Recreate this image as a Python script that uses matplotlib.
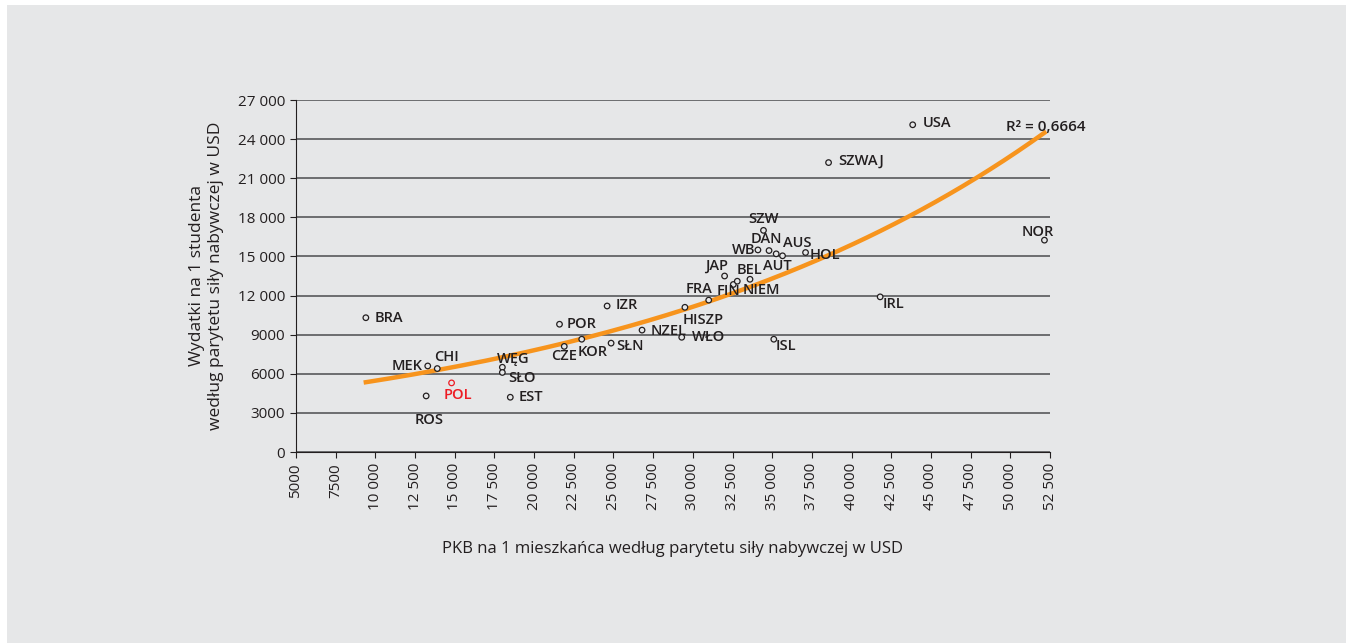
import matplotlib
matplotlib.use('Agg')
import matplotlib.pyplot as plt
import numpy as np
from matplotlib.patches import Rectangle

# data
countries = ['BRA', 'MEK', 'CHI', 'ROS', 'POL', 'WĘG', 'SŁO', 'EST', 'CZE', 'KOR',
             'POR', 'IZR', 'SŁN', 'NZEL', 'HISZP', 'WŁO', 'ISL', 'FRA', 'FIN', 'NIEM',
             'JAP', 'BEL', 'AUT', 'AUS', 'WB', 'DAN', 'HOL', 'SZW', 'SZWAJ', 'USA',
             'NOR', 'IRL']
gdp = [9400, 13300, 13900, 13200, 14800, 18000, 18000, 18500, 21900, 23000,
       21600, 24600, 24850, 26800, 29500, 29300, 35100, 31000, 32550, 32800,
       32000, 33600, 35650, 35250, 34100, 34800, 37100, 34450, 38550, 43850,
       52150, 41800]
spend = [10300, 6600, 6400, 4300, 5300, 6500, 6100, 4200, 8100, 8650,
         9800, 11200, 8350, 9350, 11100, 8800, 8650, 11650, 12850, 13100,
         13500, 13250, 15050, 15200, 15500, 15450, 15300, 17000, 22200, 25100,
         16250, 11900]
xticks = np.arange(5000, 52501, 2500)
yticks = np.arange(0, 27001, 3000)
r2_text = 'R² = 0,6664'

# label placement: offset in points, ha, va
offsets = {
    'BRA': (6, 0, 'left', 'center'), 'MEK': (-4, 0, 'right', 'center'),
    'CHI': (-2, 8, 'left', 'center'), 'ROS': (2, -17, 'center', 'center'),
    'POL': (-6, -9, 'left', 'center'), 'WĘG': (-4, 6, 'left', 'center'),
    'SŁO': (4, -4, 'left', 'center'), 'EST': (6, 0, 'left', 'center'),
    'CZE': (0, -7, 'center', 'center'), 'KOR': (-3, -9, 'left', 'center'),
    'POR': (5, 0, 'left', 'center'), 'IZR': (6, 1, 'left', 'center'),
    'SŁN': (4, -2, 'left', 'center'), 'NZEL': (6, -1, 'left', 'center'),
    'HISZP': (-2, -9, 'left', 'center'), 'WŁO': (7, 0, 'left', 'center'),
    'ISL': (1, -5, 'left', 'center'), 'FRA': (-7, 8, 'center', 'center'),
    'FIN': (5, -5, 'right', 'center'), 'NIEM': (4, -6, 'left', 'center'),
    'JAP': (-6, 7, 'center', 'center'), 'BEL': (0, 7, 'center', 'center'),
    'AUT': (-4, -7, 'center', 'center'), 'AUS': (5, 8, 'left', 'center'),
    'WB': (-2, 0, 'right', 'center'), 'DAN': (-2, 8, 'center', 'center'),
    'HOL': (3, -2, 'left', 'center'), 'SZW': (0, 8, 'center', 'center'),
    'SZWAJ': (7, 1, 'left', 'center'), 'USA': (7, 1, 'left', 'center'),
    'NOR': (-5, 6, 'center', 'center'), 'IRL': (2, -5, 'left', 'center'),
}

bg = '#e6e7e8'
txt = '#231f20'
plt.rcParams['font.family'] = ['Open Sans', 'DejaVu Sans']

fig = plt.figure(figsize=(13.5, 6.43), dpi=100)
fig.patch.set_facecolor('white')
fig.patches.append(Rectangle((7 / 1350, 0), 1 - 11 / 1350, 1 - 5 / 643,
                             transform=fig.transFigure, facecolor=bg,
                             edgecolor='none', zorder=-10))
ax = fig.add_axes([296 / 1350, 1 - 452 / 643, 754 / 1350, 352 / 643])
ax.set_facecolor(bg)

ax.set_xlim(5000, 52500)
ax.set_ylim(0, 27000)
ax.set_xticks(xticks)
ax.set_yticks(yticks)
ax.set_xticklabels([f'{v:,}'.replace(',', ' ') if v >= 10000 else str(v) for v in xticks],
                   rotation=90, fontsize=11, color=txt)
ax.set_yticklabels([f'{v:,}'.replace(',', ' ') if v >= 10000 else str(v) for v in yticks],
                   fontsize=11, color=txt)
ax.yaxis.grid(True, color='#58595b', lw=1.2)
ax.set_axisbelow(True)
for s in ['top', 'right']:
    ax.spines[s].set_visible(False)
ax.spines['left'].set_color('#231f20')
ax.spines['bottom'].set_color('#231f20')
ax.tick_params(axis='both', length=4, color='#231f20', pad=4)

# exponential trend line
x = np.array(gdp, dtype=float)
y = np.array(spend, dtype=float)
b, lna = np.polyfit(x, np.log(y), 1)
xs = np.linspace(x.min(), x.max(), 200)
ax.plot(xs, np.exp(lna + b * xs), color='#f7941d', lw=3.2, zorder=2)

colors = ['#ed1c24' if c == 'POL' else '#231f20' for c in countries]
ax.scatter(gdp, spend, s=16, facecolors=bg, edgecolors=colors, linewidths=0.9, zorder=3)

for c, gx, sy, col in zip(countries, gdp, spend, colors):
    dx, dy, ha, va = offsets[c]
    ax.annotate(c, (gx, sy), xytext=(dx, dy), textcoords='offset points',
                ha=ha, va=va, fontsize=10.5, fontweight='semibold', color=col, zorder=4)

ax.text(49730, 24900, r2_text, ha='left', va='center', fontsize=11,
        fontweight='semibold', color=txt, clip_on=False)

ax.set_xlabel('PKB na 1 mieszkańca według parytetu siły nabywczej w USD',
              fontsize=12, color=txt, labelpad=22)
ax.set_ylabel('Wydatki na 1 studenta\nwedług parytetu siły nabywczej w USD',
              fontsize=12.5, color=txt, labelpad=10, linespacing=1.25)

fig.savefig('out.png', dpi=100, facecolor=fig.get_facecolor())
